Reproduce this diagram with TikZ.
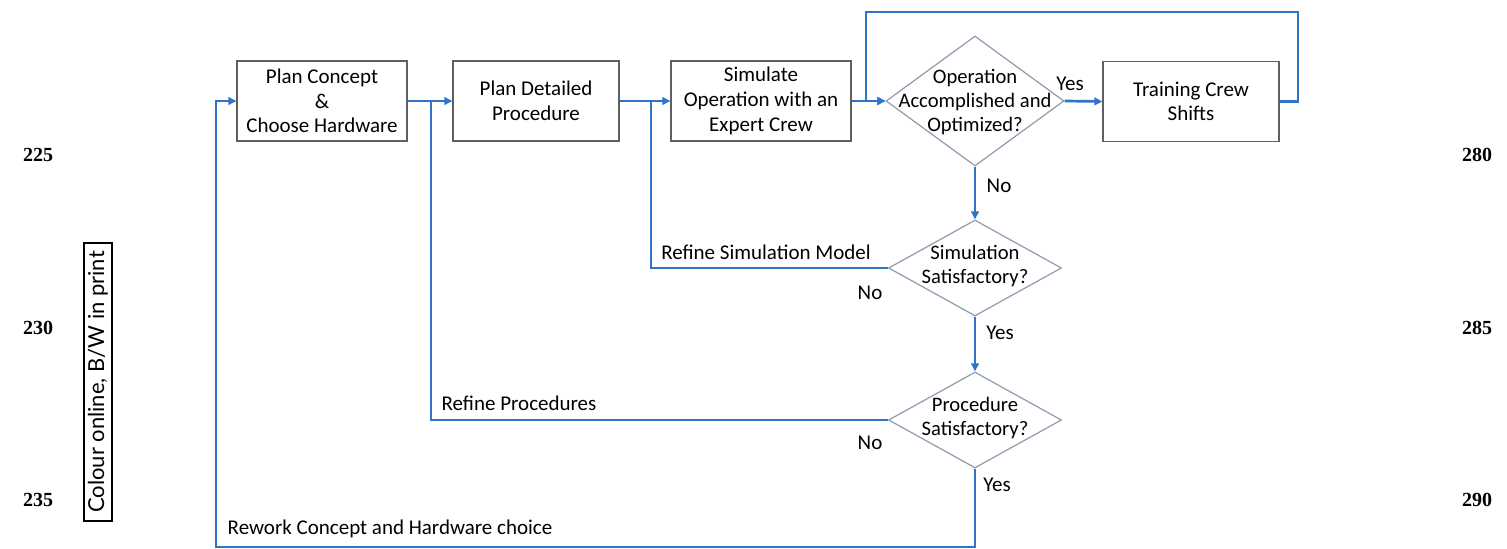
\documentclass[tikz,border=0pt]{standalone}
\usepackage{fontspec}
\setmainfont{Carlito}
\newfontfamily\numfont{Liberation Serif}
\newfontfamily\sidefont{Lato}
\usetikzlibrary{shapes.geometric,arrows.meta}
\definecolor{flowblue}{RGB}{46,117,200}
\definecolor{boxgray}{RGB}{95,95,95}
\definecolor{diagray}{RGB}{140,155,175}
\tikzset{
  box/.style={draw=boxgray, line width=0.6pt, minimum height=40pt, align=center, inner sep=0pt, font=\fontsize{10.5}{12.3}\selectfont},
  dia/.style={draw=diagray, shape=diamond, line width=0.6pt, inner sep=0pt},
  diatext/.style={align=center, font=\fontsize{10.3}{11.8}\selectfont},
  line/.style={draw=flowblue, line width=1.35pt},
  flow/.style={line, -{Triangle[length=4pt,width=3.8pt]}},
  lbl/.style={font=\fontsize{10.5}{12}\selectfont, inner sep=0pt},
  linenum/.style={font=\numfont\bfseries\fontsize{10}{11}\selectfont, inner sep=0pt}
}
\begin{document}
\begin{tikzpicture}[x=0.5pt,y=-0.5pt]
\useasboundingbox (0,0) rectangle (1507,549);
% boxes
\node[box, minimum width=85pt] (b1) at (322,101) {Plan Concept\\\&\\Choose Hardware};
\node[box, minimum width=83pt] (b2) at (536,101) {Plan Detailed\\Procedure};
\node[box, minimum width=90pt] (b3) at (761,101) {Simulate\\Operation with an\\Expert Crew};
\node[box, minimum width=88pt] (b4) at (1191,101.5) {Training Crew\\Shifts};
% diamonds
\node[dia, minimum width=89pt, minimum height=65pt] (d1) at (975,101) {};
\node[diatext] (d1t) at (975,102) {Operation\\Accomplished and\\Optimized?};
\node[dia, minimum width=86.5pt, minimum height=48pt] (d2) at (975,268) {};
\node[diatext] (d2t) at (975,266) {Simulation\\Satisfactory?};
\node[dia, minimum width=86.5pt, minimum height=48pt] (d3) at (975,420) {};
\node[diatext] (d3t) at (975,418) {Procedure\\Satisfactory?};
% junction coordinates
\coordinate (j1) at (431,101);
\coordinate (j2) at (651,101);
\coordinate (t1) at (1298,12);
\coordinate (t2) at (866,12);
\coordinate (r1) at (216,547);
% connectors
\draw[flow] (b1.east) -- (b2.west);
\draw[flow] (b2.east) -- (b3.west);
\draw[flow] (b3.east) -- (d1.west);
\draw[flow] (d1.east) -- (b4.west);
\draw[flow] (d1.south) -- (d2.north);
\draw[flow] (d2.south) -- (d3.north);
\draw[line] (d2.west) -| (j2);
\draw[line] (d3.west) -| (j1);
\draw[flow] (d3.south) |- (r1) |- (b1.west);
\draw[flow] (b4.east) -| (t1) -- (t2) |- (d1.west);
% labels
\node[lbl] (yes1) at (1070,84) {Yes};
\node[lbl] (no1) at (999,186) {No};
\node[lbl] (rsm) at (766,252) {Refine Simulation Model};
\node[lbl] (no2) at (870,293) {No};
\node[lbl] (yes2) at (1000,333) {Yes};
\node[lbl] (rp) at (519,403) {Refine Procedures};
\node[lbl] (no3) at (870,443) {No};
\node[lbl] (yes3) at (997,485) {Yes};
\node[lbl] (rw) at (390,529) {Rework Concept and Hardware choice};
% line numbers
\node[linenum] (n1) at (38,155) {225};
\node[linenum] (n2) at (38,328) {230};
\node[linenum] (n3) at (38,500) {235};
\node[linenum] (n4) at (1477,155) {280};
\node[linenum] (n5) at (1477,328) {285};
\node[linenum] (n6) at (1477,500) {290};
% side note
\node[draw=black, line width=0.7pt, rotate=90, minimum width=139pt, minimum height=14pt, inner sep=0pt, font=\sidefont\fontsize{11}{12}\selectfont] (side) at (98,382) {Colour online, B/W in print};
\end{tikzpicture}
\end{document}
